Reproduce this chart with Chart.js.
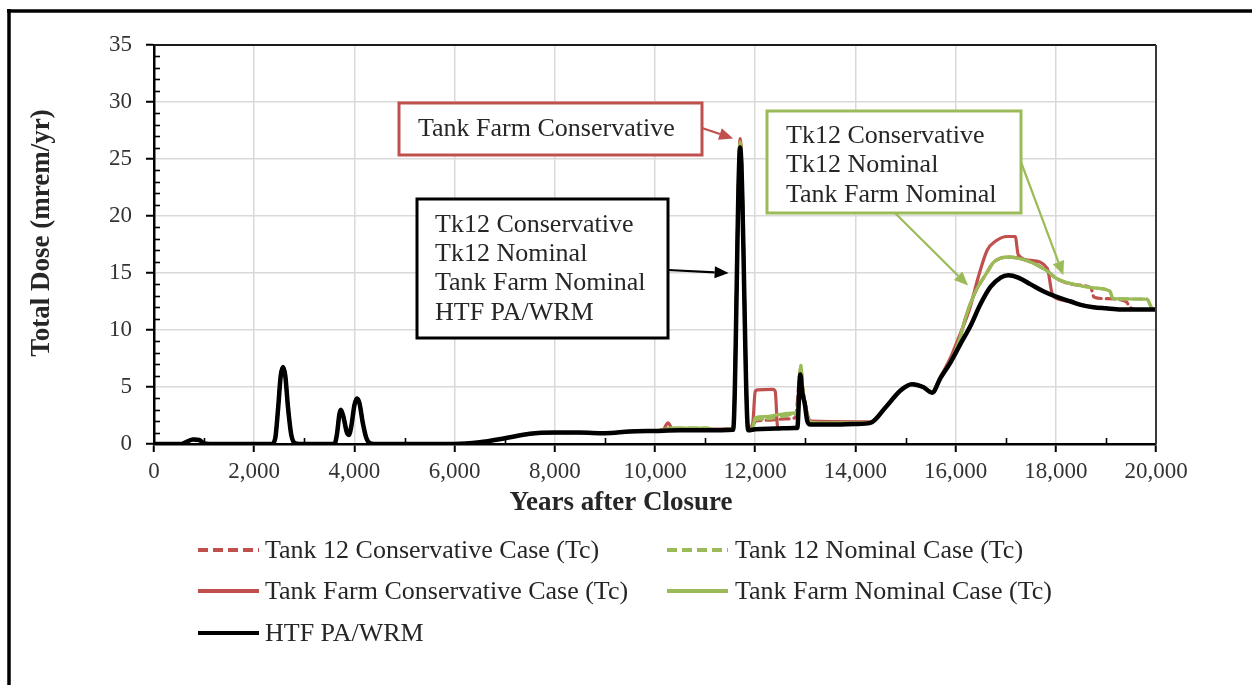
<!DOCTYPE html>
<html>
<head>
<meta charset="utf-8">
<script src="https://cdn.jsdelivr.net/npm/chart.js@4.4.1/dist/chart.umd.min.js"></script>
<style>
  html, body { margin: 0; padding: 0; background: #ffffff; }
  #wrap { position: relative; width: 1252px; height: 685px; }
</style>
</head>
<body>
<div id="wrap"><canvas id="doseChart" width="1252" height="685"></canvas></div>
<script>
// ---- data: [years after closure, total dose in mrem/yr] ----
// the early record is shared by all five cases
const doseEarly = [[0,0],[550,0],[650,0.2],[780,0.4],[900,0.35],[1000,0.05],[1100,0],
  [2350,0],[2420,0.5],[2475,3.0],[2530,6.0],[2575,6.75],[2620,6.0],[2675,3.2],[2740,0.8],[2820,0.05],[2900,0],
  [3600,0],[3650,0.8],[3700,2.6],[3730,3.0],[3780,2.4],[3850,1.0],[3890,0.8],[3940,1.6],[4000,3.4],[4050,4.0],
  [4100,3.6],[4170,1.8],[4240,0.5],[4320,0.05],[4450,0],
  [6000,0],[6500,0.15],[7000,0.5],[7500,0.9],[8000,1.0],[8500,1.0],[9000,0.95],[9500,1.1],[10000,1.15]];

const tk12ConservativeLate = [[10300,1.35],[11050,1.35],[11150,1.25],[11560,1.3],[11700,26.6],[11860,1.3],
  [11950,1.5],[12000,2.0],[12300,2.1],[12600,2.2],[12800,2.3],[12910,6.6],[12950,4.8],[13000,3.5],[13060,2.2],
  [13120,1.9],[14300,1.9],[14600,3.2],[14900,4.7],[15130,5.25],[15350,5.0],[15530,4.55],[15700,5.9],[15890,7.2],
  [16050,8.8],[16222,11.4],[16400,13.4],[16620,15.0],[16750,15.9],[16900,16.3],[17046,16.4],[17420,16.1],
  [17820,15.2],[18020,14.5],[18420,13.95],[18700,13.7],[18760,12.9],[19000,12.75],[19400,12.5],[19480,12.0],
  [19600,11.8],[20000,11.8]];

const tk12NominalLate = [[10200,1.3],[10300,1.4],[11050,1.4],[11150,1.25],[11560,1.35],[11700,26.5],[11860,1.3],
  [11950,1.5],[12000,2.1],[12200,2.2],[12500,2.4],[12750,2.6],[12840,2.7],[12910,6.9],[12950,4.8],[13000,3.5],
  [13060,2.2],[13120,1.9],[13500,1.85],[14000,1.85],[14300,1.9],[14600,3.2],[14900,4.7],[15130,5.25],[15350,5.0],
  [15530,4.55],[15700,5.9],[15890,7.2],[16050,8.8],[16222,11.4],[16400,13.4],[16620,15.0],[16750,15.9],
  [16900,16.3],[17046,16.4],[17420,16.1],[17820,15.2],[18020,14.5],[18420,13.95],[18745,13.7],[19080,13.4],
  [19140,12.75],[19820,12.7],[19920,11.9],[20000,11.8]];

const tfConservativeLate = [[10150,1.2],[10260,1.85],[10350,1.3],[11000,1.3],[11560,1.35],[11700,26.8],
  [11860,1.3],[11950,1.8],[12000,4.6],[12050,4.75],[12350,4.8],[12400,4.6],[12450,1.4],[12800,1.45],[12840,1.5],
  [12910,6.4],[12950,4.8],[13000,3.5],[13060,2.3],[13120,2.0],[14000,1.95],[14300,1.95],[14600,3.2],[14900,4.7],
  [15130,5.25],[15350,5.0],[15530,4.55],[15700,5.9],[15890,7.5],[16050,9.2],[16290,12.0],[16450,14.6],
  [16630,17.0],[16800,17.8],[17030,18.2],[17190,18.2],[17250,16.6],[17500,16.1],[17830,15.4],[17920,13.3],
  [17980,12.85],[18300,12.5],[18500,12.2],[18750,12.0],[19000,11.9],[19300,11.8],[19600,11.8],[20000,11.8]];

const tfNominalLate = [[10200,1.3],[10300,1.4],[11050,1.4],[11150,1.25],[11560,1.35],[11700,26.5],[11860,1.3],
  [11950,1.5],[12000,2.3],[12200,2.4],[12500,2.6],[12750,2.7],[12840,2.8],[12910,6.9],[12950,4.8],[13000,3.5],
  [13060,2.2],[13120,1.9],[13500,1.85],[14000,1.85],[14300,1.9],[14600,3.2],[14900,4.7],[15130,5.25],[15350,5.0],
  [15530,4.55],[15700,5.9],[15890,7.2],[16050,8.8],[16222,11.4],[16400,13.4],[16620,15.0],[16750,15.9],
  [16900,16.3],[17046,16.4],[17420,16.1],[17820,15.2],[18020,14.5],[18420,13.95],[18745,13.7],[19080,13.4],
  [19140,12.75],[19820,12.7],[19920,11.9],[20000,11.8]];

const htfLate = [[10500,1.2],[11000,1.2],[11560,1.25],[11700,26.0],[11860,1.2],[12000,1.3],[12400,1.35],
  [12800,1.4],[12840,1.4],[12900,6.1],[12940,4.5],[12990,3.5],[13040,2.0],[13100,1.7],[13500,1.7],[14000,1.75],
  [14300,1.85],[14600,3.2],[14900,4.7],[15130,5.25],[15350,5.0],[15530,4.5],[15700,5.8],[15890,7.1],[16100,8.8],
  [16290,10.3],[16500,12.3],[16700,13.8],[16900,14.6],[17050,14.8],[17250,14.6],[17500,14.0],[17750,13.4],
  [18020,12.9],[18300,12.5],[18500,12.2],[18750,12.0],[19000,11.9],[19300,11.8],[19600,11.8],[20000,11.8]];

const seriesLabels = ['Tank 12 Conservative Case (Tc)', 'Tank 12 Nominal Case (Tc)',
  'Tank Farm Conservative Case (Tc)', 'Tank Farm Nominal Case (Tc)', 'HTF PA/WRM'];
const yearTicks = [0, 2000, 4000, 6000, 8000, 10000, 12000, 14000, 16000, 18000, 20000];
const doseTicks = [0, 5, 10, 15, 20, 25, 30, 35];

// ---- styling ----
const SERIF = '"Liberation Serif", "Times New Roman", serif';
const RED = '#C0504D', GREEN = '#9BBB59', BLACK = '#000000';
const TEXT = '#262626';

const toPts = arr => arr.map(p => ({ x: p[0], y: p[1] }));

const datasets = [
  { label: seriesLabels[0], data: toPts(doseEarly.concat(tk12ConservativeLate)), borderColor: RED, borderWidth: 3.2, borderDash: [9, 5], order: 4 },
  { label: seriesLabels[1], data: toPts(doseEarly.concat(tk12NominalLate)), borderColor: GREEN, borderWidth: 3.2, borderDash: [9, 5], order: 3 },
  { label: seriesLabels[2], data: toPts(doseEarly.concat(tfConservativeLate)), borderColor: RED, borderWidth: 3.2, order: 2 },
  { label: seriesLabels[3], data: toPts(doseEarly.concat(tfNominalLate)), borderColor: GREEN, borderWidth: 3.2, order: 1 },
  { label: seriesLabels[4], data: toPts(doseEarly.concat(htfLate)), borderColor: BLACK, borderWidth: 4.5, order: 0 }
];
datasets.forEach(d => {
  d.pointRadius = 0;
  d.fill = false;
  d.cubicInterpolationMode = 'monotone';
  d.borderJoinStyle = 'round';
  d.borderCapStyle = 'round';
});

// callout boxes (pixel layout) with arrows pointing at data locations
const callouts = [
  { color: RED, box: [399, 103, 702, 155], textX: 418, lines: ['Tank Farm Conservative'], lineY: [129],
    arrows: [{ from: [702, 128], to: { x: 11560, y: 26.8 } }] },
  { color: BLACK, box: [417, 199, 668, 338], textX: 435, lines: ['Tk12 Conservative', 'Tk12 Nominal', 'Tank Farm Nominal', 'HTF PA/WRM'],
    lineY: [225, 254, 283, 313], arrows: [{ from: [668, 270], to: { x: 11470, y: 15.0 } }] },
  { color: GREEN, box: [767, 111, 1021, 213], textX: 786, lines: ['Tk12 Conservative', 'Tk12 Nominal', 'Tank Farm Nominal'],
    lineY: [136, 165, 195], arrows: [{ from: [895, 213], to: { x: 16250, y: 13.9 } }, { from: [1021, 162], to: { x: 18150, y: 14.8 } }] }
];

function drawArrow(ctx, x1, y1, x2, y2, color) {
  const ang = Math.atan2(y2 - y1, x2 - x1);
  const head = 14, half = 6;
  const bx = x2 - head * Math.cos(ang), by = y2 - head * Math.sin(ang);
  ctx.strokeStyle = color; ctx.fillStyle = color; ctx.lineWidth = 2.2;
  ctx.beginPath(); ctx.moveTo(x1, y1); ctx.lineTo(bx, by); ctx.stroke();
  ctx.beginPath();
  ctx.moveTo(x2, y2);
  ctx.lineTo(bx + half * Math.sin(ang), by - half * Math.cos(ang));
  ctx.lineTo(bx - half * Math.sin(ang), by + half * Math.cos(ang));
  ctx.closePath(); ctx.fill();
}

const decor = {
  id: 'decor',
  beforeDraw(chart) {
    const ctx = chart.ctx;
    ctx.save();
    ctx.fillStyle = '#ffffff';
    ctx.fillRect(0, 0, chart.width, chart.height);
    // outer frame (top and left edges)
    ctx.strokeStyle = '#000'; ctx.lineWidth = 3.5;
    ctx.beginPath(); ctx.moveTo(7, 11); ctx.lineTo(chart.width, 11); ctx.stroke();
    ctx.beginPath(); ctx.moveTo(9, 9); ctx.lineTo(9, chart.height); ctx.stroke();
    ctx.restore();
  },
  afterDatasetsDraw(chart) {
    const ctx = chart.ctx, xs = chart.scales.x, ys = chart.scales.y, a = chart.chartArea;
    ctx.save();
    // plot frame top and right
    ctx.strokeStyle = '#1a1a1a'; ctx.lineWidth = 2;
    ctx.beginPath(); ctx.moveTo(a.left, a.top); ctx.lineTo(a.right, a.top); ctx.stroke();
    ctx.strokeStyle = '#3a3a3a';
    ctx.beginPath(); ctx.moveTo(a.right, a.top); ctx.lineTo(a.right, a.bottom); ctx.stroke();
    // minor ticks
    ctx.strokeStyle = '#000'; ctx.lineWidth = 1.6;
    for (let v = 1; v < 35; v++) {
      if (v % 5 === 0) continue;
      const py = Math.round(ys.getPixelForValue(v)) + 0.5;
      ctx.beginPath(); ctx.moveTo(a.left, py); ctx.lineTo(a.left + 6, py); ctx.stroke();
    }
    for (let v = 1000; v < 20000; v += 2000) {
      const px = Math.round(xs.getPixelForValue(v)) + 0.5;
      ctx.beginPath(); ctx.moveTo(px, a.bottom); ctx.lineTo(px, a.bottom - 6); ctx.stroke();
    }
    // axis titles
    ctx.fillStyle = TEXT;
    ctx.font = 'bold 27px ' + SERIF;
    ctx.textAlign = 'center'; ctx.textBaseline = 'middle';
    ctx.fillText('Years after Closure', 621, 503);
    ctx.save();
    ctx.translate(42, 233); ctx.rotate(-Math.PI / 2);
    ctx.fillText('Total Dose (mrem/yr)', 0, 0);
    ctx.restore();
    // callouts
    callouts.forEach(c => {
      const [x1, y1, x2, y2] = c.box;
      ctx.fillStyle = '#fff'; ctx.fillRect(x1, y1, x2 - x1, y2 - y1);
      ctx.strokeStyle = c.color; ctx.lineWidth = 3;
      ctx.strokeRect(x1, y1, x2 - x1, y2 - y1);
      ctx.fillStyle = TEXT; ctx.font = '26px ' + SERIF;
      ctx.textAlign = 'left'; ctx.textBaseline = 'middle';
      c.lines.forEach((t, i) => ctx.fillText(t, c.textX, c.lineY[i]));
      c.arrows.forEach(ar => {
        drawArrow(ctx, ar.from[0], ar.from[1], xs.getPixelForValue(ar.to.x), ys.getPixelForValue(ar.to.y), c.color);
      });
    });
    // legend, two columns
    const colSample = [198, 667], colText = [265, 735], rowY = [550, 591, 633];
    chart.data.datasets.forEach((d, i) => {
      const col = i % 2, row = Math.floor(i / 2);
      const y = rowY[row];
      ctx.strokeStyle = d.borderColor; ctx.lineWidth = 4;
      ctx.setLineDash(d.borderDash ? [10, 5] : []);
      ctx.lineCap = 'butt';
      ctx.beginPath(); ctx.moveTo(colSample[col], y); ctx.lineTo(colSample[col] + 61, y); ctx.stroke();
      ctx.setLineDash([]);
      ctx.fillStyle = TEXT; ctx.font = '26px ' + SERIF;
      ctx.textAlign = 'left'; ctx.textBaseline = 'middle';
      ctx.fillText(d.label, colText[col], y + 1);
    });
    ctx.restore();
  }
};

new Chart(document.getElementById('doseChart'), {
  type: 'line',
  data: { datasets },
  plugins: [decor],
  options: {
    responsive: false,
    animation: false,
    parsing: true,
    layout: { padding: { left: 0, top: 45, right: 96, bottom: 181 } },
    plugins: { legend: { display: false }, tooltip: { enabled: false } },
    scales: {
      x: {
        type: 'linear', min: 0, max: 20000,
        afterBuildTicks: s => { s.ticks = yearTicks.map(v => ({ value: v })); },
        afterFit: s => { s.height = 60; },
        ticks: { color: '#333', font: { family: SERIF, size: 23 }, padding: 6, maxRotation: 0, autoSkip: false,
                 callback: v => v.toLocaleString('en-US') },
        grid: { color: '#d9d9d9', lineWidth: 1.5, tickColor: '#000', tickLength: 8, tickWidth: 2 },
        border: { color: '#000', width: 2.5 }
      },
      y: {
        type: 'linear', min: 0, max: 35,
        afterBuildTicks: s => { s.ticks = doseTicks.map(v => ({ value: v })); },
        afterFit: s => { s.width = 154; },
        ticks: { color: '#333', font: { family: SERIF, size: 23 }, padding: 14 },
        grid: { color: '#d9d9d9', lineWidth: 1.5, tickColor: '#000', tickLength: 8, tickWidth: 2 },
        border: { color: '#000', width: 2.5 }
      }
    }
  }
});
</script>
</body>
</html>
